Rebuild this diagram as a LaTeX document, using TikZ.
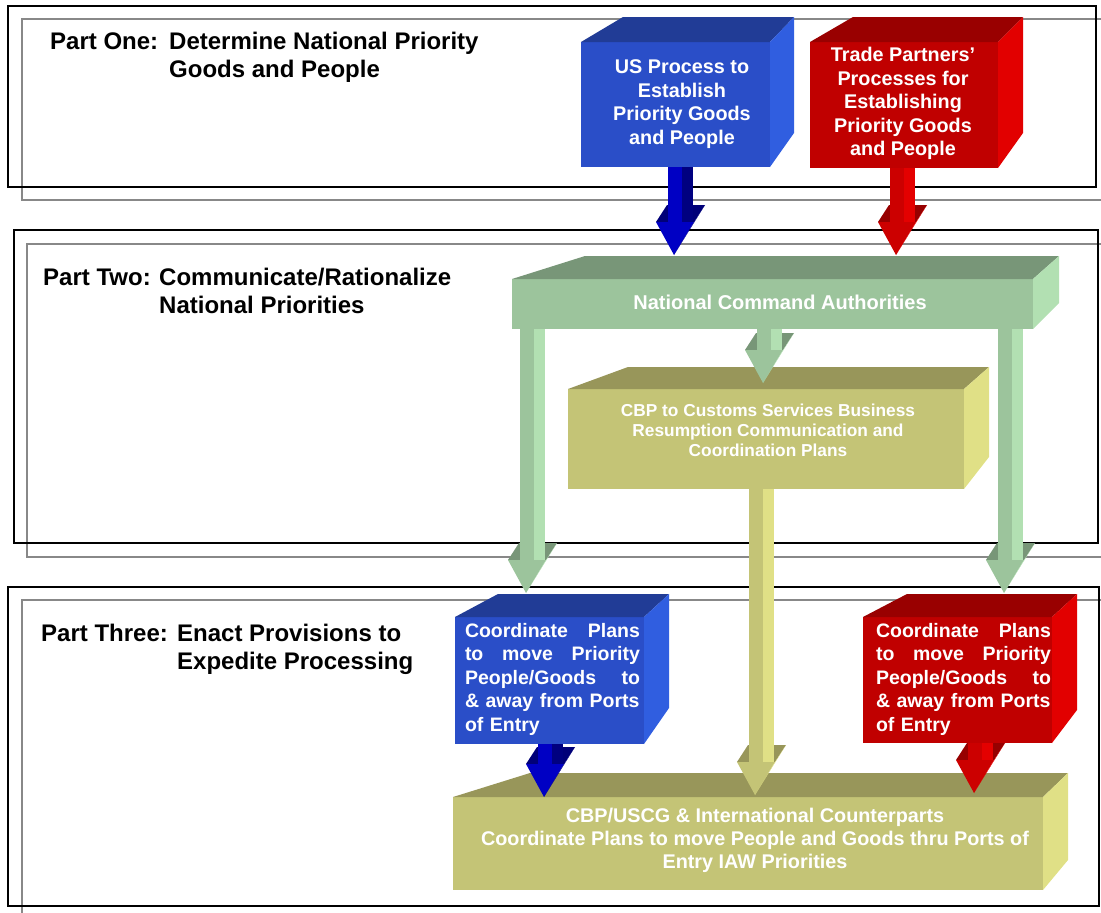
\documentclass[tikz,border=0pt]{standalone}
\usepackage{fontspec}
\setmainfont{Liberation Sans}
\usepackage{tikz}
\usetikzlibrary{calc}

\definecolor{frgray}{RGB}{136,136,136}
\definecolor{bluF}{RGB}{42,78,200}
\definecolor{bluT}{RGB}{33,60,150}
\definecolor{bluS}{RGB}{48,94,224}
\definecolor{redF}{RGB}{192,0,0}
\definecolor{redT}{RGB}{153,0,0}
\definecolor{redS}{RGB}{226,0,0}
\definecolor{grnF}{RGB}{156,196,156}
\definecolor{grnT}{RGB}{120,150,120}
\definecolor{grnS}{RGB}{178,224,178}
\definecolor{olvF}{RGB}{196,196,118}
\definecolor{olvT}{RGB}{152,150,90}
\definecolor{olvS}{RGB}{224,224,134}
\definecolor{nvyF}{RGB}{0,0,196}
\definecolor{nvyT}{RGB}{0,0,120}
\definecolor{nvyS}{RGB}{0,0,128}
\definecolor{rarF}{RGB}{204,0,0}
\definecolor{rarT}{RGB}{150,0,0}
\definecolor{rarS}{RGB}{228,0,0}

% top and right faces behind a front face node
% #1 node, #2 palette, #3 back-left shift, #4 back-right shift, #5 lift, #6 lift of side bottom
\newcommand\boxfaces[6]{%
  \fill[#2T] (#1.north west) -- ++(#3,-#5) -- ($(#1.north east)+(#4,-#5)$) -- (#1.north east) -- cycle;
  \fill[#2S] (#1.north east) -- ++(#4,-#5) -- ($(#1.south east)+(#4,-#6)$) -- (#1.south east) -- cycle;
}
% block arrow from a box down to a tip
% #1 source node, #2 tip coordinate, #3 palette
\newcommand\blockarr[3]{%
  \coordinate (hf) at ($(#2)+(-18,-33)$);
  \fill[#3T] (hf) -- ++(11,-17) -- ++(38,0) -- ++(-11,17) -- cycle;
  \fill[#3F] ($(#1.south -| #2)+(-6,0)$) rectangle ($(hf -| #2)+(8,0)$);
  \fill[#3S] ($(#1.south -| #2)+(8,0)$) rectangle ($(hf -| #2)+(19,0)$);
  \fill[#3F] (hf) -- ++(38,0) -- (#2) -- cycle;
  \fill[#3S] ($(hf)+(38,0)$) -- ++(11,-17) -- (#2) -- cycle;
}

\begin{document}
\begin{tikzpicture}[x=1pt,y=-1pt,
  partframe/.style={draw=black,line width=1.6pt},
  backframe/.style={draw=frgray,line width=1.6pt},
  partlbl/.style={anchor=base west,inner sep=0pt,font=\fontsize{24}{28}\selectfont\bfseries},
  boxface/.style={rectangle,inner sep=0pt,outer sep=0pt},
  boxtext/.style={text=white,align=center,inner sep=0pt,font=\fontsize{19.8}{23.5}\selectfont\bfseries}]
  \useasboundingbox (0,0) rectangle (1101,913);
  % the three parts
  \draw[backframe] (1101,19) -- (22,19) -- (22,200) -- (1101,200);
  \draw[partframe] (8,6) rectangle (1096,187);
  \draw[backframe] (1101,244) -- (27,244) -- (27,557) -- (1101,557);
  \draw[partframe] (14,230) rectangle (1098,543);
  \draw[backframe] (1101,600) -- (22,600) -- (22,913);
  \draw[partframe] (8,587) rectangle (1099,906);

  \node[partlbl] (p1) at (50,49) {Part One:};
  \node[partlbl] (p1txt) at (169,49) {\begin{tabular}[t]{@{}l@{}}Determine National Priority\\Goods and People\end{tabular}};
  \node[partlbl] (p2) at (43,285.5) {Part Two:};
  \node[partlbl] (p2txt) at (159,285.5) {\begin{tabular}[t]{@{}l@{}}Communicate/Rationalize\\National Priorities\end{tabular}};
  \node[partlbl] (p3) at (41,641.5) {Part Three:};
  \node[partlbl] (p3txt) at (177,641.5) {\begin{tabular}[t]{@{}l@{}}Enact Provisions to\\Expedite Processing\end{tabular}};

  % boxes
  \node[boxface,fill=bluF,minimum width=189,minimum height=125] (us) at (675.5,104.5) {};
  \boxfaces{us}{blu}{42}{24}{25}{34}
  \node[boxface,fill=redF,minimum width=188,minimum height=126] (tp) at (904,105) {};
  \boxfaces{tp}{red}{43}{25}{25}{35}
  \node[boxface,fill=grnF,minimum width=521,minimum height=50] (nca) at (772.5,304) {};
  \boxfaces{nca}{grn}{73}{26}{23}{26}
  \node[boxface,fill=olvF,minimum width=396,minimum height=100] (cbp) at (766,439) {};
  \boxfaces{cbp}{olv}{60}{25}{22}{32}
  \node[boxface,fill=bluF,minimum width=189,minimum height=127] (cpus) at (549.5,680.5) {};
  \boxfaces{cpus}{blu}{43}{25}{23}{36}
  \node[boxface,fill=redF,minimum width=189,minimum height=126] (cptp) at (957.5,680) {};
  \boxfaces{cptp}{red}{44}{25}{23}{33}
  \node[boxface,fill=olvF,minimum width=590,minimum height=93] (ports) at (748,843.5) {};
  \boxfaces{ports}{olv}{77}{25}{24}{30}

  % arrow tips
  \coordinate (usTip) at (674,255);
  \coordinate (tpTip) at (896,255);
  \coordinate (lTip) at (526,593);
  \coordinate (mTip) at (763,383);
  \coordinate (rTip) at (1004,593);
  \coordinate (cbpTip) at (755,795);
  \coordinate (cpusTip) at (544,797);
  \coordinate (cptpTip) at (974,793);
  \blockarr{us}{usTip}{nvy}
  \blockarr{tp}{tpTip}{rar}
  \blockarr{nca}{lTip}{grn}
  \blockarr{nca}{mTip}{grn}
  \blockarr{nca}{rTip}{grn}
  \blockarr{cbp}{cbpTip}{olv}
  \blockarr{cpus}{cpusTip}{nvy}
  \blockarr{cptp}{cptpTip}{rar}

  % box texts
  \node[boxtext] (usTxt) at (682,104) {US Process to\\Establish\\Priority Goods\\and People};
  \node[boxtext] (tpTxt) at (903,103.5) {Trade Partners'\\Processes for\\Establishing\\Priority Goods\\and People};
  \node[boxtext,font=\fontsize{20}{24}\selectfont\bfseries] (ncaTxt) at (780,302) {National Command Authorities};
  \node[boxtext,font=\fontsize{17.3}{20}\selectfont\bfseries] (cbpTxt) at (768,430) {CBP to Customs Services Business\\Resumption Communication and\\Coordination Plans};
  \node[boxtext,align=left,text width=175,font=\fontsize{19.5}{23.5}\selectfont\bfseries] (cpusTxt) at (552.5,679)
    {Coordinate\hfill Plans\\to\hfill move\hfill Priority\\People/Goods\hfill to\\\& away from Ports\\of Entry};
  \node[boxtext,align=left,text width=175,font=\fontsize{19.5}{23.5}\selectfont\bfseries] (cptpTxt) at (963.5,679)
    {Coordinate\hfill Plans\\to\hfill move\hfill Priority\\People/Goods\hfill to\\\& away from Ports\\of Entry};
  \node[boxtext,font=\fontsize{19.8}{23}\selectfont\bfseries] (portsTxt) at (755,840) {CBP/USCG \& International Counterparts\\Coordinate Plans to move People and Goods thru Ports of\\Entry IAW Priorities};
\end{tikzpicture}
\end{document}
